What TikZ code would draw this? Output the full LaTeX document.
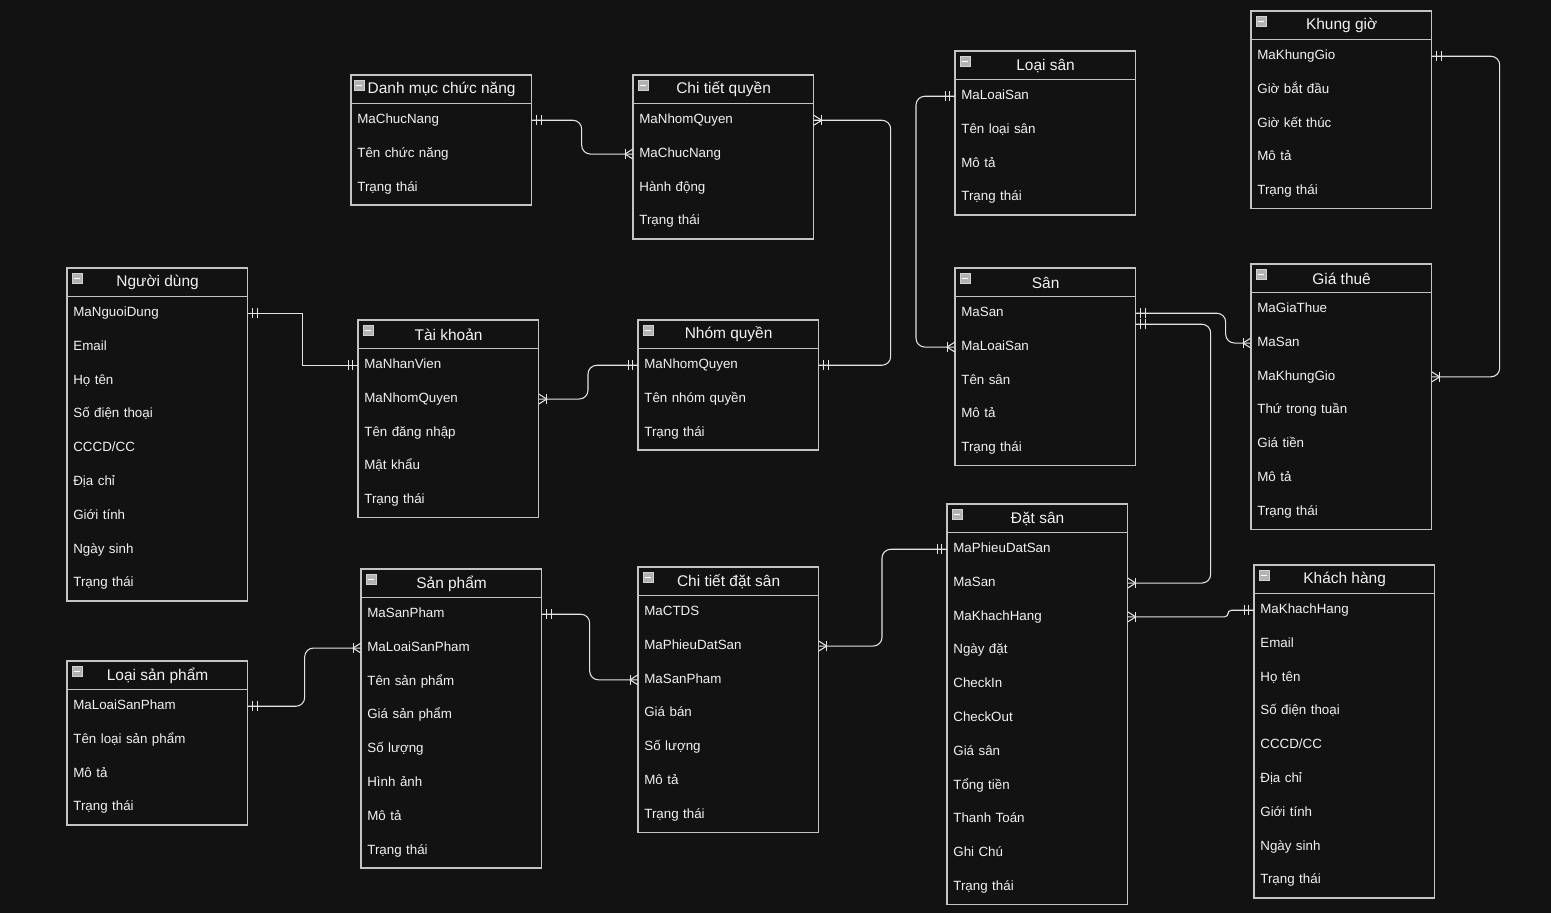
\documentclass[tikz,border=0pt]{standalone}
\usepackage{fontspec}
\setmainfont{Liberation Sans}
\usetikzlibrary{decorations.markings}
\definecolor{bgc}{HTML}{121212}
\definecolor{boxc}{HTML}{C4C4C4}
\definecolor{linec}{HTML}{E4E4E4}
\definecolor{txtc}{HTML}{F2F2F2}

\begin{document}
\begin{tikzpicture}[x=0.02cm, y=-0.02cm,
    ehead/.style={
        rectangle, anchor=north west, draw=boxc, line width=0.7pt,
        minimum width=3.6cm, minimum height=0.56cm, inner sep=0pt,
        text=txtc, font=\fontsize{8.8}{10}\selectfont
    },
    efield/.style={
        rectangle, anchor=north west, text width=3.36cm, inner xsep=0.12cm,
        inner ysep=0pt, minimum height=0.676cm, align=left,
        text=txtc, font=\fontsize{7.6}{9}\selectfont,
        execute at begin node=\strut
    },
    ebox/.style={draw=boxc, line width=0.7pt},
    eicon/.style={
        rectangle, anchor=north west, fill=gray!60, draw=gray!35,
        line width=0.3pt, minimum size=0.2cm, inner sep=0pt,
        path picture={\draw[white, line width=0.7pt]
            ([xshift=1.2pt]path picture bounding box.west) --
            ([xshift=-1.2pt]path picture bounding box.east);}
    },
    barmark/.style={draw=linec, line width=0.6pt, sharp corners},
    rel/.style={draw=linec, line width=0.6pt, rounded corners=5pt},
    one2many/.style={rel, postaction={decorate, decoration={markings,
        mark=at position 3pt with {\draw[barmark] (0pt,-2.8pt) -- (0pt,2.8pt);},
        mark=at position 5.5pt with {\draw[barmark] (0pt,-2.8pt) -- (0pt,2.8pt);},
        mark=at position -4.5pt with {\draw[barmark] (0pt,-2.8pt) -- (0pt,2.8pt);},
        mark=at position -0.1pt with {\draw[barmark] (-4.5pt,0pt) -- (0pt,2.8pt)
            (-4.5pt,0pt) -- (0pt,-2.8pt);}}}},
    one2one/.style={rel, postaction={decorate, decoration={markings,
        mark=at position 3pt with {\draw[barmark] (0pt,-2.8pt) -- (0pt,2.8pt);},
        mark=at position 5.5pt with {\draw[barmark] (0pt,-2.8pt) -- (0pt,2.8pt);},
        mark=at position -5.5pt with {\draw[barmark] (0pt,-2.8pt) -- (0pt,2.8pt);},
        mark=at position -3pt with {\draw[barmark] (0pt,-2.8pt) -- (0pt,2.8pt);}}}}
]
    \fill[bgc] (0,0) rectangle (1551,913);
    \useasboundingbox (0,0) rectangle (1551,913);

    % Danh muc chuc nang
    \node[ehead] (dmcn) at (351,75) {Danh mục chức năng};
    \foreach \f [count=\i] in {MaChucNang, Tên chức năng, Trạng thái}
        \node[efield] (dmcn-\i) at (351,{103+(\i-1)*33.8}) {\f};
    \draw[ebox] (dmcn.north west) rectangle (dmcn-3.south east);
    \node[eicon] (dmcn-ic) at ([xshift=0.06cm,yshift=-0.1cm]dmcn.north west) {};

    % Chi tiet quyen
    \node[ehead] (ctq) at (633,75) {Chi tiết quyền};
    \foreach \f [count=\i] in {MaNhomQuyen, MaChucNang, Hành động, Trạng thái}
        \node[efield] (ctq-\i) at (633,{103+(\i-1)*33.8}) {\f};
    \draw[ebox] (ctq.north west) rectangle (ctq-4.south east);
    \node[eicon] (ctq-ic) at ([xshift=0.1cm,yshift=-0.1cm]ctq.north west) {};

    % Nguoi dung
    \node[ehead] (nd) at (67,268) {Người dùng};
    \foreach \f [count=\i] in {MaNguoiDung, Email, Họ tên, Số điện thoại, CCCD/CC,
            Địa chỉ, Giới tính, Ngày sinh, Trạng thái}
        \node[efield] (nd-\i) at (67,{296+(\i-1)*33.8}) {\f};
    \draw[ebox] (nd.north west) rectangle (nd-9.south east);
    \node[eicon] (nd-ic) at ([xshift=0.1cm,yshift=-0.1cm]nd.north west) {};

    % Tai khoan
    \node[ehead] (tk) at (358,320) {Tài khoản};
    \foreach \f [count=\i] in {MaNhanVien, MaNhomQuyen, Tên đăng nhập, Mật khẩu, Trạng thái}
        \node[efield] (tk-\i) at (358,{348+(\i-1)*33.8}) {\f};
    \draw[ebox] (tk.north west) rectangle (tk-5.south east);
    \node[eicon] (tk-ic) at ([xshift=0.1cm,yshift=-0.1cm]tk.north west) {};

    % Nhom quyen
    \node[ehead] (nq) at (638,320) {Nhóm quyền};
    \foreach \f [count=\i] in {MaNhomQuyen, Tên nhóm quyền, Trạng thái}
        \node[efield] (nq-\i) at (638,{348+(\i-1)*33.8}) {\f};
    \draw[ebox] (nq.north west) rectangle (nq-3.south east);
    \node[eicon] (nq-ic) at ([xshift=0.1cm,yshift=-0.1cm]nq.north west) {};

    % Loai san
    \node[ehead] (ls) at (955,51) {Loại sân};
    \foreach \f [count=\i] in {MaLoaiSan, Tên loại sân, Mô tả, Trạng thái}
        \node[efield] (ls-\i) at (955,{79+(\i-1)*33.8}) {\f};
    \draw[ebox] (ls.north west) rectangle (ls-4.south east);
    \node[eicon] (ls-ic) at ([xshift=0.1cm,yshift=-0.1cm]ls.north west) {};

    % San
    \node[ehead] (san) at (955,268) {Sân};
    \foreach \f [count=\i] in {MaSan, MaLoaiSan, Tên sân, Mô tả, Trạng thái}
        \node[efield] (san-\i) at (955,{296+(\i-1)*33.8}) {\f};
    \draw[ebox] (san.north west) rectangle (san-5.south east);
    \node[eicon] (san-ic) at ([xshift=0.1cm,yshift=-0.1cm]san.north west) {};

    % Khung gio
    \node[ehead] (kg) at (1251,11) {Khung giờ};
    \foreach \f [count=\i] in {MaKhungGio, Giờ bắt đầu, Giờ kết thúc, Mô tả, Trạng thái}
        \node[efield] (kg-\i) at (1251,{39+(\i-1)*33.8}) {\f};
    \draw[ebox] (kg.north west) rectangle (kg-5.south east);
    \node[eicon] (kg-ic) at ([xshift=0.1cm,yshift=-0.1cm]kg.north west) {};

    % Gia thue
    \node[ehead] (gt) at (1251,264) {Giá thuê};
    \foreach \f [count=\i] in {MaGiaThue, MaSan, MaKhungGio, Thứ trong tuần, Giá tiền,
            Mô tả, Trạng thái}
        \node[efield] (gt-\i) at (1251,{292+(\i-1)*33.8}) {\f};
    \draw[ebox] (gt.north west) rectangle (gt-7.south east);
    \node[eicon] (gt-ic) at ([xshift=0.1cm,yshift=-0.1cm]gt.north west) {};

    % Dat san
    \node[ehead] (ds) at (947,504) {Đặt sân};
    \foreach \f [count=\i] in {MaPhieuDatSan, MaSan, MaKhachHang, Ngày đặt, CheckIn,
            CheckOut, Giá sân, Tổng tiền, Thanh Toán, Ghi Chú, Trạng thái}
        \node[efield] (ds-\i) at (947,{532+(\i-1)*33.8}) {\f};
    \draw[ebox] (ds.north west) rectangle (ds-11.south east);
    \node[eicon] (ds-ic) at ([xshift=0.1cm,yshift=-0.1cm]ds.north west) {};

    % Khach hang
    \node[ehead] (kh) at (1254,565) {Khách hàng};
    \foreach \f [count=\i] in {MaKhachHang, Email, Họ tên, Số điện thoại, CCCD/CC,
            Địa chỉ, Giới tính, Ngày sinh, Trạng thái}
        \node[efield] (kh-\i) at (1254,{593+(\i-1)*33.8}) {\f};
    \draw[ebox] (kh.north west) rectangle (kh-9.south east);
    \node[eicon] (kh-ic) at ([xshift=0.1cm,yshift=-0.1cm]kh.north west) {};

    % San pham
    \node[ehead] (sp) at (361,569) {Sản phẩm};
    \foreach \f [count=\i] in {MaSanPham, MaLoaiSanPham, Tên sản phẩm, Giá sản phẩm,
            Số lượng, Hình ảnh, Mô tả, Trạng thái}
        \node[efield] (sp-\i) at (361,{597+(\i-1)*33.8}) {\f};
    \draw[ebox] (sp.north west) rectangle (sp-8.south east);
    \node[eicon] (sp-ic) at ([xshift=0.1cm,yshift=-0.1cm]sp.north west) {};

    % Chi tiet dat san
    \node[ehead] (ctds) at (638,567) {Chi tiết đặt sân};
    \foreach \f [count=\i] in {MaCTDS, MaPhieuDatSan, MaSanPham, Giá bán, Số lượng,
            Mô tả, Trạng thái}
        \node[efield] (ctds-\i) at (638,{595+(\i-1)*33.8}) {\f};
    \draw[ebox] (ctds.north west) rectangle (ctds-7.south east);
    \node[eicon] (ctds-ic) at ([xshift=0.1cm,yshift=-0.1cm]ctds.north west) {};

    % Loai san pham
    \node[ehead] (lsp) at (67,661) {Loại sản phẩm};
    \foreach \f [count=\i] in {MaLoaiSanPham, Tên loại sản phẩm, Mô tả, Trạng thái}
        \node[efield] (lsp-\i) at (67,{689+(\i-1)*33.8}) {\f};
    \draw[ebox] (lsp.north west) rectangle (lsp-4.south east);
    \node[eicon] (lsp-ic) at ([xshift=0.1cm,yshift=-0.1cm]lsp.north west) {};

    % relations
    \draw[one2many] (dmcn-1.east) -- ++(50,0) |- (ctq-2.west);
    \draw[one2many] (nq-1.east) -- ++(72,0) |- (ctq-1.east);
    \draw[one2one, sharp corners] (nd-1.east) -- ++(55,0) |- (tk-1.west);
    \draw[one2many] (nq-1.west) -- ++(-50,0) |- (tk-2.east);
    \draw[one2many] (ls-1.west) -- ++(-39,0) |- (san-2.west);
    \draw[one2many] (san-1.east) -- ++(90,0) |- (gt-2.west);
    \draw[one2many] ([yshift=-0.22cm]san-1.east) -- ++(75,0) |- (ds-2.east);
    \draw[one2many] (kg-1.east) -- ++(68,0) |- (gt-3.east);
    \draw[one2many] (ds-1.west) -- ++(-65,0) |- (ctds-2.east);
    \draw[one2many, rounded corners=2pt] (kh-1.west) -- ++(-26,0) |- (ds-3.east);
    \draw[one2many] (sp-1.east) -- ++(48,0) |- (ctds-3.west);
    \draw[one2many] (lsp-1.east) -- ++(57,0) |- (sp-2.west);
\end{tikzpicture}
\end{document}
